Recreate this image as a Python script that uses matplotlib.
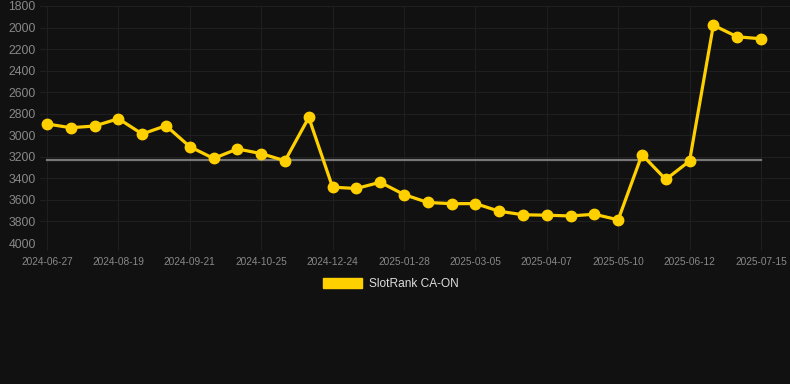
import matplotlib
matplotlib.use("Agg")
import matplotlib.pyplot as plt
from matplotlib.patches import Patch

plt.rcParams['font.family'] = ['Liberation Sans', 'DejaVu Sans']

ranks = [2895, 2930, 2914, 2846, 2988, 2911, 3106, 3215, 3127, 3170,
         3237, 2835, 3482, 3494, 3436, 3550, 3624, 3635, 3634, 3705,
         3738, 3742, 3749, 3733, 3785, 3180, 3410, 3239, 1978, 2086, 2104]
avg_rank = 3225
tick_labels = ["2024-06-27", "2024-08-19", "2024-09-21", "2024-10-25",
               "2024-12-24", "2025-01-28", "2025-03-05", "2025-04-07",
               "2025-05-10", "2025-06-12", "2025-07-15"]
series_name = "SlotRank CA-ON"

bg = "#111111"
gold = "#FFD000"

fig = plt.figure(figsize=(7.9, 3.84), dpi=100, facecolor=bg)
ax = fig.add_axes([40/790, 1-243/384, 750/790, 237/384], facecolor=bg)

x = list(range(len(ranks)))
ax.plot([x[0], x[-1]], [avg_rank, avg_rank], color="#777777", lw=1.6, zorder=2)
ax.plot(x, ranks, color=gold, lw=2.3, marker="o", markersize=7.5,
        markerfacecolor=gold, markeredgecolor=gold, zorder=3)

ax.set_ylim(4000, 1800)
ax.set_yticks(range(1800, 4001, 200))
ax.set_xlim(-0.294, 31.22)
tick_pos = list(range(0, len(ranks), 3))
ax.set_xticks(tick_pos)
ax.set_xticklabels(tick_labels)

ax.grid(True, color="#1f1f1f", lw=0.8)
ax.set_axisbelow(True)
for s in ax.spines.values():
    s.set_visible(False)
ax.tick_params(axis="y", length=0, pad=3, labelsize=8.8, labelcolor="#888888")
ax.tick_params(axis="x", length=5, color="#1f1f1f", pad=5, labelsize=7.3,
               labelcolor="#888888")

handle = Patch(facecolor=gold, edgecolor=gold)
fig.legend([handle], [series_name], loc="center", bbox_to_anchor=(391/790, 1-284/384),
           frameon=False, fontsize=8.6, labelcolor="#dddddd",
           handlelength=3.3, handleheight=0.9, handletextpad=0.6)

fig.savefig("out.png", dpi=100, facecolor=bg)
